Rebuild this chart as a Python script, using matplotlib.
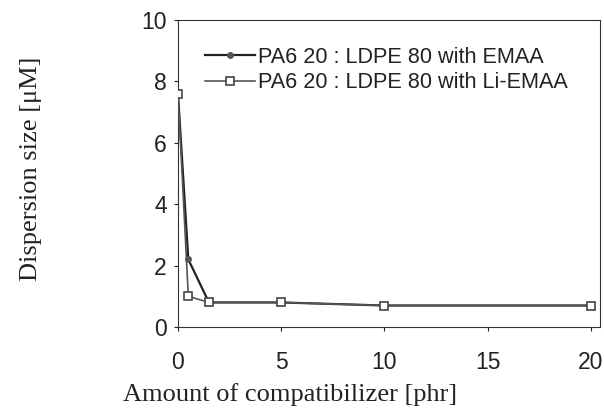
import matplotlib
matplotlib.use("Agg")
import matplotlib.pyplot as plt

amount_emaa = [0, 0.5, 1.5, 5, 10, 20]
size_emaa = [7.6, 2.2, 0.8, 0.8, 0.7, 0.7]
amount_li = [0, 0.5, 1.5, 5, 10, 20]
size_li = [7.6, 1.0, 0.8, 0.8, 0.7, 0.7]
label_emaa = "PA6 20 : LDPE 80 with EMAA"
label_li = "PA6 20 : LDPE 80 with Li-EMAA"
xticks = [0, 5, 10, 15, 20]
yticks = [0, 2, 4, 6, 8, 10]

fig = plt.figure(figsize=(6.04, 4.08), dpi=100)
ax = fig.add_axes([0.2947, 0.1985, 0.6987, 0.7525])

ax.plot(amount_li, size_li, color="#555555", lw=1.2, marker="s", markersize=6,
        markerfacecolor="white", markeredgecolor="#444444", markeredgewidth=1.2,
        label=label_li, zorder=3)
ax.plot(amount_emaa, size_emaa, color="#222222", lw=1.6, marker="o", markersize=4,
        markerfacecolor="#555555", markeredgecolor="#555555",
        label=label_emaa, zorder=2)

ax.set_xlim(0, 20.44)
ax.set_ylim(0, 10)
ax.set_xticks(xticks)
ax.set_yticks(yticks)
ax.tick_params(direction="out", length=3, width=0.8, labelsize=16.5,
               colors="#222222")
ax.tick_params(axis="x", pad=14)
ax.tick_params(axis="y", pad=5)
for lab in ax.get_xticklabels() + ax.get_yticklabels():
    lab.set_family("Liberation Sans")
for s in ax.spines.values():
    s.set_linewidth(0.8)
    s.set_color("#333333")

ax.set_xlabel("Amount of compatibilizer [phr]", family="Liberation Serif",
              fontsize=19, color="#222222")
ax.set_ylabel("Dispersion size [\u03bcM]", family="Liberation Serif",
              fontsize=19, color="#222222")
ax.xaxis.set_label_coords(0.265, -0.183)
ax.yaxis.set_label_coords(-0.322, 0.515)

h, l = ax.get_legend_handles_labels()
leg = ax.legend(h[::-1], l[::-1], loc="upper left", bbox_to_anchor=(0.043, 0.94),
                borderaxespad=0, frameon=False, handlelength=2.3, handletextpad=0.15,
                labelspacing=0.2, prop={"family": "Liberation Sans", "size": 15.6})
for t in leg.get_texts():
    t.set_color("#222222")

fig.savefig("out.png", dpi=100)
